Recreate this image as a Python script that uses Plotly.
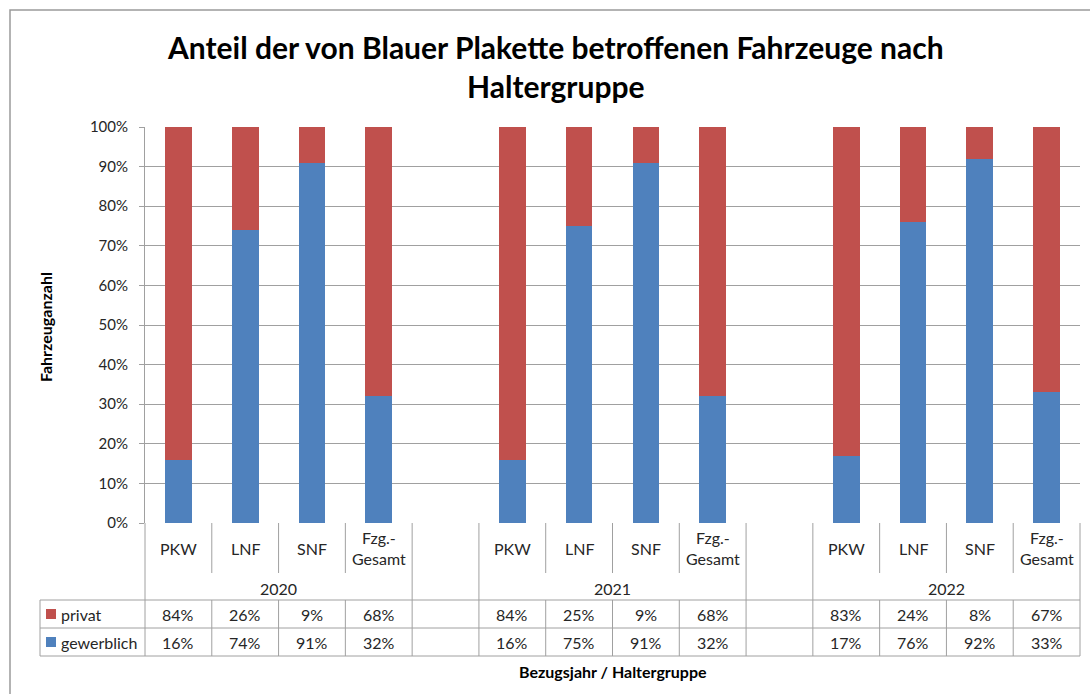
import plotly.graph_objects as go

# Shares of vehicles affected by the blue badge, by owner group (percent)
years = ["2020", "2021", "2022"]
groups = ["PKW", "LNF", "SNF", "Fzg.-<br>Gesamt"]
privat = [[84, 26, 9, 68], [84, 25, 9, 68], [83, 24, 8, 67]]
gewerblich = [[16, 74, 91, 32], [16, 75, 91, 32], [17, 76, 92, 33]]
y_ticks = list(range(0, 101, 10))

C_PRIVAT = "#C0504D"
C_GEWERB = "#4F81BD"
GRID = "#A0A0A0"
TXT = "#262626"
FONT = "Lato"

W, H = 1090, 694
L, R, T, B = 145, 1080, 127, 523

# Build the slot list: four groups per year with an empty slot between years
slots, priv_vals, gew_vals, slot_text = [], [], [], []
for yi, yr in enumerate(years):
    for gi, g in enumerate(groups):
        slots.append(f"{yr} {g}")
        priv_vals.append(privat[yi][gi])
        gew_vals.append(gewerblich[yi][gi])
        slot_text.append((g, privat[yi][gi], gewerblich[yi][gi]))
    if yi < len(years) - 1:
        slots.append(f"gap{yi}")
        priv_vals.append(None)
        gew_vals.append(None)
        slot_text.append(None)
n = len(slots)


def px(x):
    return (x - L) / (R - L)


def py(y):
    return (B - y) / (B - T)


fig = go.Figure()
fig.add_trace(go.Bar(x=slots, y=gew_vals, name="gewerblich", marker_color=C_GEWERB,
                     marker_line_width=0))
fig.add_trace(go.Bar(x=slots, y=priv_vals, name="privat", marker_color=C_PRIVAT,
                     marker_line_width=0))

shapes = []
annotations = []


def line(x0, y0, x1, y1, color=GRID, width=1):
    shapes.append(dict(type="line", xref="paper", yref="paper",
                       x0=px(x0), y0=py(y0), x1=px(x1), y1=py(y1),
                       line=dict(color=color, width=width)))


def label(x, y, text, size=16, color=TXT, xanchor="center", bold=False, angle=0):
    annotations.append(dict(x=px(x), y=py(y), xref="paper", yref="paper",
                            text=f"<b>{text}</b>" if bold else text,
                            xanchor=xanchor, yanchor="middle", showarrow=False,
                            textangle=angle,
                            font=dict(size=size, color=color, family=FONT)))


def slot_x(i):
    return L + i * (R - L) / n


ROW_CAT = 573
ROW_P = 600
ROW_G = 628
ROW_END = 656

# Vertical table lines
group_edges = [0]
for i, s in enumerate(slots):
    if s.startswith("gap"):
        group_edges += [i, i + 1]
group_edges.append(n)
for i in range(n + 1):
    x = slot_x(i)
    if i in group_edges:
        line(x, B, x, ROW_END)
    else:
        line(x, B, x, ROW_CAT)
        line(x, ROW_P, x, ROW_END)
line(40, ROW_P, 40, ROW_END)

# Horizontal table lines
for yy in (ROW_P, ROW_G, ROW_END):
    line(40, yy, R, yy)

# Category labels and values
for i, st in enumerate(slot_text):
    if st is None:
        continue
    g, pv, gv = st
    cx = slot_x(i + 0.5)
    label(cx, 548, g)
    label(cx, 614, f"{pv}%")
    label(cx, 642, f"{gv}%")

# Year labels under each group
start = 0
for yr in years:
    label((slot_x(start) + slot_x(start + 4)) / 2, 588, yr)
    start += 5

# Legend keys inside the table
for (name, col, yc) in (("privat", C_PRIVAT, 614), ("gewerblich", C_GEWERB, 642)):
    shapes.append(dict(type="rect", xref="paper", yref="paper",
                       x0=px(46), x1=px(56), y0=py(yc - 5), y1=py(yc + 5),
                       fillcolor=col, line=dict(width=0)))
    label(59, yc, name, xanchor="left")

# Axis titles
label((L + R) / 2, 671, "Bezugsjahr / Haltergruppe", size=16, color="#000", bold=True)
label(45, 327, "Fahrzeuganzahl", size=16, color="#000", bold=True, angle=-90)

# Chart title
label(555, 67, "Anteil der von Blauer Plakette betroffenen Fahrzeuge nach<br>Haltergruppe",
      size=30, color="#000", bold=True)

# Chart-area border
shapes.append(dict(type="rect", xref="paper", yref="paper",
                   x0=px(10), y0=py(10), x1=px(1100), y1=py(704),
                   line=dict(color="#9A9A9A", width=1.5), fillcolor="rgba(0,0,0,0)"))

fig.update_layout(
    width=W, height=H,
    margin=dict(l=L, r=W - R, t=T, b=H - B),
    paper_bgcolor="white", plot_bgcolor="white",
    barmode="stack", bargap=0.6, showlegend=False,
    xaxis=dict(type="category", categoryorder="array", categoryarray=slots,
               range=[-0.5, n - 0.5], showticklabels=False, ticks="",
               showgrid=False, zeroline=False, showline=False),
    yaxis=dict(range=[0, 100], tickvals=y_ticks, ticktext=[f"{v}%" for v in y_ticks],
               showgrid=True, gridcolor=GRID, gridwidth=1,
               showline=True, linecolor=GRID, linewidth=1,
               ticks="outside", ticklen=5, tickcolor=GRID, ticklabelstandoff=8,
               zeroline=False, tickfont=dict(size=15, color=TXT, family=FONT)),
    shapes=shapes, annotations=annotations,
)

fig.write_html("out.html")
